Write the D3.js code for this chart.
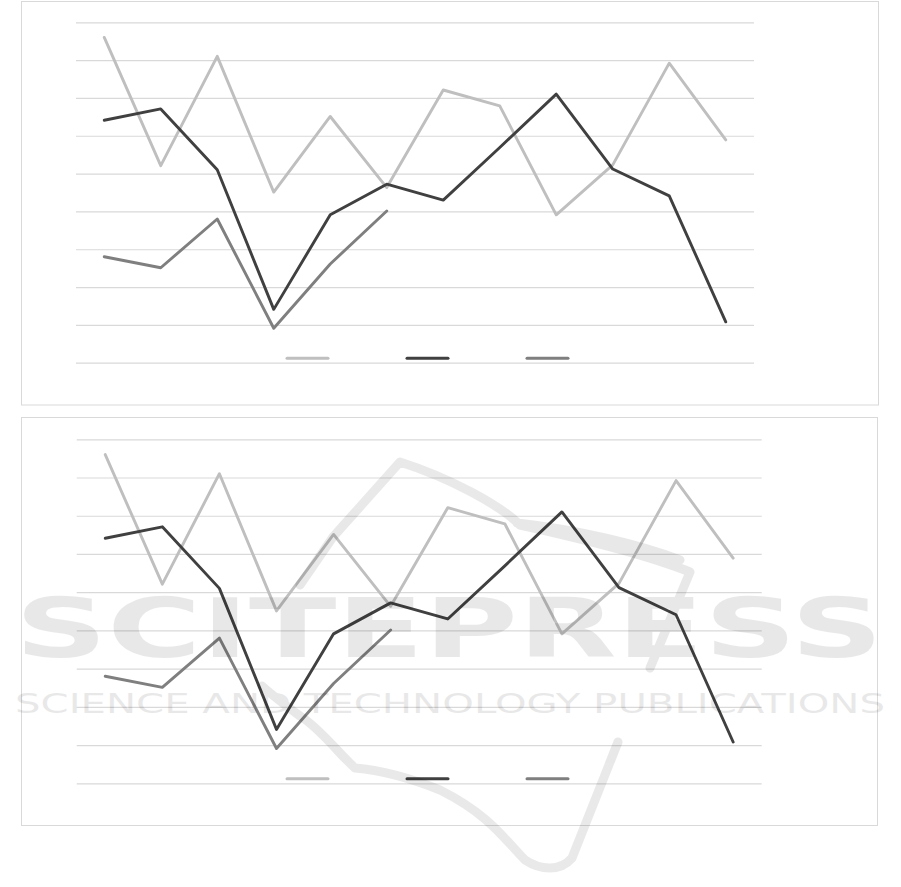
<!DOCTYPE html>
<html>
<head>
<meta charset="utf-8">
<script src="https://cdn.jsdelivr.net/npm/d3@7"></script>
<style>
  html, body { margin: 0; padding: 0; background: #fff; }
  svg { display: block; }
</style>
</head>
<body>
<div id="chart"></div>
<script>
// ---------- DATA ----------
const categories = ["1","2","3","4","5","6","7","8","9","10","11","12"];
const seriesNames = ["Series 1", "Series 2", "Series 3"];
const series1 = [86.0, 52.1, 81.0, 45.1, 65.1, 46.3, 72.1, 67.9, 39.1, 52.3, 79.2, 58.9];
const series2 = [64.1, 67.1, 51.0, 14.1, 39.1, 47.2, 43.0, 56.9, 71.0, 51.2, 44.1, 10.8];
const series3 = [28.0, 25.1, 38.0, 9.1, 26.1, 40.1, null, null, null, null, null, null];
const yTicks = [0, 10, 20, 30, 40, 50, 60, 70, 80, 90];

// ---------- STYLE ----------
const colors = ["#bfbfbf", "#404040", "#7f7f7f"];
const gridColor = "#d9d9d9";

const W = 901, H = 887;
const svg = d3.select("#chart").append("svg").attr("width", W).attr("height", H);

// two identical panels
const panels = [
  { box: [21.5, 1.5, 857, 403.5], plot: { x0: 76, x1: 754, yTop: 22.3, yBot: 362.7 } },
  { box: [21.5, 417.5, 856, 408], plot: { x0: 76.7, x1: 761.7, yTop: 439.3, yBot: 783.3 } }
];

const allSeries = [series1, series2, series3];

panels.forEach(p => {
  const g = svg.append("g");
  g.append("rect")
    .attr("x", p.box[0]).attr("y", p.box[1])
    .attr("width", p.box[2]).attr("height", p.box[3])
    .attr("fill", "#fff").attr("stroke", gridColor).attr("stroke-width", 1);

  const x = d3.scaleBand().domain(categories).range([p.plot.x0, p.plot.x1]);
  const y = d3.scaleLinear().domain([0, 90]).range([p.plot.yBot, p.plot.yTop]);

  // gridlines via axis
  const axis = d3.axisLeft(y).tickValues(yTicks)
    .tickSize(-(p.plot.x1 - p.plot.x0)).tickFormat("");
  const ga = g.append("g").attr("transform", `translate(${p.plot.x0},0)`).call(axis);
  ga.select(".domain").remove();
  ga.selectAll(".tick line").attr("stroke", gridColor).attr("stroke-width", 1.2);

  const line = d3.line()
    .defined(d => d.v !== null)
    .x(d => x(d.c) + x.bandwidth() / 2)
    .y(d => y(d.v));

  allSeries.forEach((s, i) => {
    g.append("path")
      .datum(categories.map((c, k) => ({ c, v: s[k] })))
      .attr("d", line)
      .attr("fill", "none")
      .attr("stroke", colors[i])
      .attr("stroke-width", 2.9)
      .attr("stroke-linejoin", "round")
      .attr("stroke-linecap", "round");
  });

  // legend (swatches only)
  const lg = g.append("g")
    .attr("transform", `translate(${p.box[0] + 265.5},${p.plot.yBot - 4.5})`);
  seriesNames.forEach((n, i) => {
    lg.append("line")
      .attr("x1", i * 120).attr("x2", i * 120 + 41)
      .attr("y1", 0).attr("y2", 0)
      .attr("stroke", colors[i]).attr("stroke-width", 3)
      .attr("stroke-linecap", "round");
  });
});

// ---------- WATERMARK (bottom panel) ----------
const wm = svg.append("g").attr("opacity", 0.085);
wm.append("path")
  .attr("d", "M400,462 C450,478 500,505 520,525 C570,536 640,552 690,572 L650,668 M618,742 L572,858 C560,872 540,870 525,860 C505,840 490,815 440,790 C410,778 380,770 355,768 C340,755 320,728 300,716 C285,705 272,695 262,686 M300,585 L333,537 L400,462 M517,523 C580,530 640,545 680,560")
  .attr("fill", "none").attr("stroke", "#000").attr("stroke-width", 9)
  .attr("stroke-linejoin", "round").attr("stroke-linecap", "round");
wm.append("text")
  .attr("x", 15).attr("y", 657)
  .attr("textLength", 868).attr("lengthAdjust", "spacingAndGlyphs")
  .attr("font-family", "DejaVu Sans, sans-serif").attr("font-weight", "bold")
  .attr("font-size", 82).attr("fill", "#000")
  .text("SCITEPRESS");
wm.append("text")
  .attr("x", 15).attr("y", 713)
  .attr("textLength", 870).attr("lengthAdjust", "spacingAndGlyphs")
  .attr("font-family", "DejaVu Sans, sans-serif")
  .attr("font-size", 27).attr("fill", "#000")
  .text("SCIENCE AND TECHNOLOGY PUBLICATIONS");
</script>
</body>
</html>
